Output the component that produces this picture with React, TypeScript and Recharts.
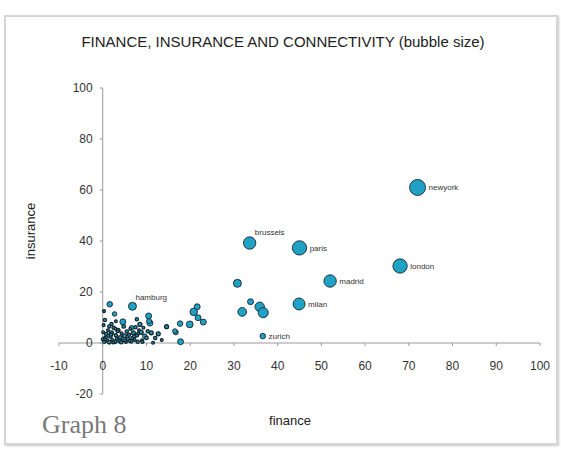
import React from 'react';
import {
  ScatterChart,
  Scatter,
  XAxis,
  YAxis,
  ZAxis,
  ReferenceLine,
} from 'recharts';

// labelled cities
const cityNames = ['newyork', 'london', 'paris', 'brussels', 'madrid', 'milan', 'zurich', 'hamburg'];
const cityFinance = [72, 68, 45, 33.6, 52, 44.9, 36.6, 6.8];
const cityInsurance = [61, 30.2, 37.3, 39.2, 24.3, 15.3, 2.7, 14.4];
const cityConnectivity = [100, 80, 80, 60, 60, 56, 12, 25];

// unlabelled cities
const otherFinance = [
  30.8, 33.8, 31.9, 35.9, 36.7, 21.6, 20.8, 21.8, 23, 19.9, 17.7, 16.7, 17.8, 14.6, 12.7, 16.5,
  1.6, 2.7, 4.6, 10.5, 10.8, 10.6, 8.5, 6.6, 9.6, 11.1, 7.8, 11.5,
  0.3, 0.5, 0.8, 1, 1.2, 1.5, 1.8, 2, 2.2, 2.5, 2.8, 3, 3.2, 3.5, 3.8, 4, 4.3, 4.5, 4.8, 5,
  5.3, 5.5, 5.8, 6, 6.3, 6.5, 6.8, 7, 7.3, 7.5, 7.8, 8, 8.3, 8.8, 9, 9.3, 10, 10.3, 0.2, 0.5,
  0.3, 2, 3, 1.5, 0.1, 0, 12, 13.5, 0.6, 1.3, 2.4, 3.4, 4.2, 5.1, 6.1, 7.2, 8.1, 9.1, 1.9, 2.9,
];
const otherInsurance = [
  23.4, 16.2, 12.2, 14.2, 11.9, 14.2, 12.2, 9.9, 8.2, 7.3, 7.6, 4.2, 0.5, 6.4, 3.6, 4.7,
  15.2, 11.4, 8.3, 10.6, 7.8, 8.6, 7.3, 6, 2.7, 4, 9.3, 0.1,
  0.5, 2, 3.5, 1, 5, 0.3, 2.5, 4, 1.2, 6, 0.5, 3, 1.8, 5, 0.8, 2.2, 3.8, 1, 6.5, 2.8,
  0.4, 4.5, 1.5, 3.2, 5.5, 0.7, 2, 4, 1.2, 6.2, 3, 0.5, 5, 4.2, 1, 6, 2, 4.6, 7, 9,
  12.5, 7.5, 8.5, 6.5, 4.2, 1.5, 2, 1.2, 1.4, 2.8, 0.2, 4.6, 0.3, 1.1, 0.9, 2.6, 3.7, 0.4, 3.3, 5.6,
];
const otherConnectivity = [
  25, 14, 30, 35, 40, 14, 22, 14, 14, 18, 12, 10, 14, 6, 6, 8,
  12, 8, 14, 14, 14, 10, 6, 8, 8, 6, 4, 3,
  4, 3, 5, 4, 3, 5, 4, 6, 3, 4, 5, 4, 3, 6, 4, 5, 3, 4, 5, 6,
  3, 4, 5, 4, 3, 5, 4, 6, 3, 4, 5, 4, 3, 6, 4, 3, 5, 4, 3, 4,
  3, 4, 3, 4, 3, 3, 4, 3, 3, 4, 3, 3, 4, 3, 3, 4, 3, 3, 4, 3,
];

const xTicks = [-10, 0, 10, 20, 30, 40, 50, 60, 70, 80, 90, 100];
const yTicks = [-20, 0, 20, 40, 60, 80, 100];
const aboveLabels = ['brussels', 'hamburg'];

const cityData = cityNames.map((name, i) => ({
  name,
  finance: cityFinance[i],
  insurance: cityInsurance[i],
  conn: cityConnectivity[i],
}));
const otherData = otherFinance.map((f, i) => ({
  name: '',
  finance: f,
  insurance: otherInsurance[i],
  conn: otherConnectivity[i],
}));

const W = 561;
const H = 450;
const X_AXIS_H = 30;
const Y_AXIS_W = 40;
const PLOT = { top: 88, right: 540, bottom: 394, left: 59 };
const M = { top: PLOT.top, right: W - PLOT.right, bottom: H - PLOT.bottom - X_AXIS_H, left: PLOT.left - Y_AXIS_W };
const PLOT_W = PLOT.right - PLOT.left;
const PLOT_H = PLOT.bottom - PLOT.top;
// pixel distance from plot edges to the zero lines
const ZERO_FROM_BOTTOM = (PLOT_H * 20) / 120;
const ZERO_FROM_LEFT = (PLOT_W * 10) / 110;

const FONT = 'Arial, "Liberation Sans", sans-serif';
const AXIS = '#9a9a9a';
const TEAL = '#1fa2c6';

const renderXTick = (props: any) => {
  const { x, y, payload } = props;
  const y0 = y - ZERO_FROM_BOTTOM;
  return (
    <g key={`xt-${payload.value}`}>
      <line x1={x} x2={x} y1={y0} y2={y0 + 3} stroke={AXIS} />
      <text x={x} y={y0 + 27} textAnchor="middle" fontSize={12} fill="#333" fontFamily={FONT}>
        {payload.value}
      </text>
    </g>
  );
};

const renderYTick = (props: any) => {
  const { x, y, payload } = props;
  const x0 = x + ZERO_FROM_LEFT;
  return (
    <g key={`yt-${payload.value}`}>
      <line x1={x0 - 3} x2={x0} y1={y} y2={y} stroke={AXIS} />
      <text x={x0 - 10} y={y + 4} textAnchor="end" fontSize={12} fill="#333" fontFamily={FONT}>
        {payload.value}
      </text>
    </g>
  );
};

const Bubble = (props: any) => {
  const { cx, cy, size, payload } = props;
  const r = Math.sqrt((size || 10) / Math.PI);
  const name = payload?.name;
  const above = aboveLabels.includes(name);
  return (
    <g>
      <circle cx={cx} cy={cy} r={r} fill={TEAL} stroke="#15252b" strokeWidth={r < 2.2 ? 1.3 : 0.9} />
      {name ? (
        <text
          x={above ? cx + r - 1 : cx + r + 3}
          y={above ? cy - r - 2 : cy + 3}
          fontSize={8}
          fill="#333"
          fontFamily={FONT}
        >
          {name}
        </text>
      ) : null}
    </g>
  );
};

export default function App() {
  return (
    <div style={{ position: 'absolute', left: 0, top: 0, width: W, height: H, background: '#fff' }}>
      <div
        style={{
          position: 'absolute',
          left: 4,
          top: 15,
          width: 550,
          height: 426,
          border: '2px solid #d6d6d6',
          boxShadow: '1px 1px 2px #c8c8c8',
        }}
      />
      <div
        style={{
          position: 'absolute',
          left: 0,
          width: 566,
          top: 33,
          textAlign: 'center',
          fontFamily: FONT,
          fontSize: 15,
          color: '#222',
        }}
      >
        FINANCE, INSURANCE AND CONNECTIVITY (bubble size)
      </div>
      <div style={{ position: 'absolute', left: 0, top: 0 }}>
        <ScatterChart width={W} height={H} margin={M}>
          <XAxis
            type="number"
            dataKey="finance"
            domain={[-10, 100]}
            ticks={xTicks}
            axisLine={false}
            tickLine={false}
            tickSize={0}
            tickMargin={0}
            height={X_AXIS_H}
            tick={renderXTick}
            interval={0}
            allowDataOverflow
          />
          <YAxis
            type="number"
            dataKey="insurance"
            domain={[-20, 100]}
            ticks={yTicks}
            axisLine={false}
            tickLine={false}
            tickSize={0}
            tickMargin={0}
            width={Y_AXIS_W}
            tick={renderYTick}
            interval={0}
            allowDataOverflow
          />
          <ZAxis type="number" dataKey="conn" domain={[0, 100]} range={[0, 200]} />
          <ReferenceLine y={0} stroke={AXIS} />
          <ReferenceLine x={0} stroke={AXIS} />
          <Scatter data={otherData} shape={<Bubble />} isAnimationActive={false} />
          <Scatter data={cityData} shape={<Bubble />} isAnimationActive={false} />
        </ScatterChart>
      </div>
      <div
        style={{
          position: 'absolute',
          left: 250,
          width: 80,
          top: 413,
          textAlign: 'center',
          fontFamily: FONT,
          fontSize: 13,
          color: '#222',
        }}
      >
        finance
      </div>
      <div
        style={{
          position: 'absolute',
          left: 30,
          top: 231,
          transform: 'translate(-50%, -50%) rotate(-90deg)',
          fontFamily: FONT,
          fontSize: 13,
          color: '#222',
          whiteSpace: 'nowrap',
        }}
      >
        insurance
      </div>
      <div
        style={{
          position: 'absolute',
          left: 42,
          top: 410,
          fontFamily: '"Liberation Serif", "Times New Roman", serif',
          fontSize: 26,
          color: '#7a7a7a',
        }}
      >
        Graph 8
      </div>
    </div>
  );
}
